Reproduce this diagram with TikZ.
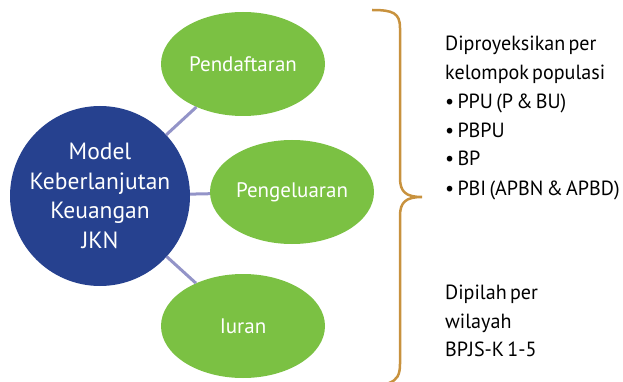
\documentclass[tikz,border=0pt]{standalone}
\usepackage{fontspec}
\setmainfont{PT Sans}
\newfontfamily\notefont{PT Sans}[WordSpace=0.6,FakeStretch=0.98]
\usetikzlibrary{shapes.geometric}
\definecolor{jknblue}{HTML}{26418F}
\definecolor{jkngreen}{HTML}{7BC143}
\definecolor{jknline}{HTML}{9394C8}
\definecolor{jknbrace}{HTML}{C8923E}
\tikzset{
  hub/.style={circle, fill=jknblue, minimum size=180pt, inner sep=0pt, text=white, align=center,
    font=\fontsize{23.5}{29.6}\selectfont},
  leaf/.style={ellipse, fill=jkngreen, minimum width=164pt, minimum height=104pt, inner sep=0pt,
    text=white, font=\fontsize{21}{24}\selectfont},
  link/.style={draw=jknline, line width=3pt},
  bracestyle/.style={draw=jknbrace, line width=2.5pt},
  note/.style={anchor=base west, inner sep=0pt, text=black, font=\notefont\fontsize{20.5}{24}\selectfont}
}
\begin{document}
\begin{tikzpicture}[x=1pt,y=-1pt]
\useasboundingbox (0,0) rectangle (623,382);
\node[hub] (m) at (100,196) {Model\\Keberlanjutan\\Keuangan\\JKN};
\node[leaf] (p1) at (243,64) {Pendaftaran};
\node[leaf] (p2) at (292,192) {Pengeluaran};
\node[leaf] (p3) at (243,326) {Iuran};
\draw[link] (m) -- (p1);
\draw[link] (m) -- (p2);
\draw[link] (m) -- (p3);
\draw[bracestyle] (372,10) .. controls (393,10) and (400,13) .. (400,28) -- (400,178)
  .. controls (400,192) and (406,197) .. (422,197)
  .. controls (406,197) and (400,202) .. (400,216) -- (400,364)
  .. controls (400,375) and (397,380) .. (389,383);
\node[note] (t1) at (445,51) {Diproyeksikan per};
\node[note] (t2) at (445,80) {kelompok populasi};
\node[note] (t3) at (445,109) {• PPU (P \& BU)};
\node[note] (t4) at (445,138) {• PBPU};
\node[note] (t5) at (445,166) {• BP};
\node[note] (t6) at (445,195) {• PBI (APBN \& APBD)};
\node[note] (b1) at (445,299) {Dipilah per};
\node[note] (b2) at (445,328) {wilayah};
\node[note] (b3) at (445,356) {BPJS-K 1-5};
\end{tikzpicture}
\end{document}
